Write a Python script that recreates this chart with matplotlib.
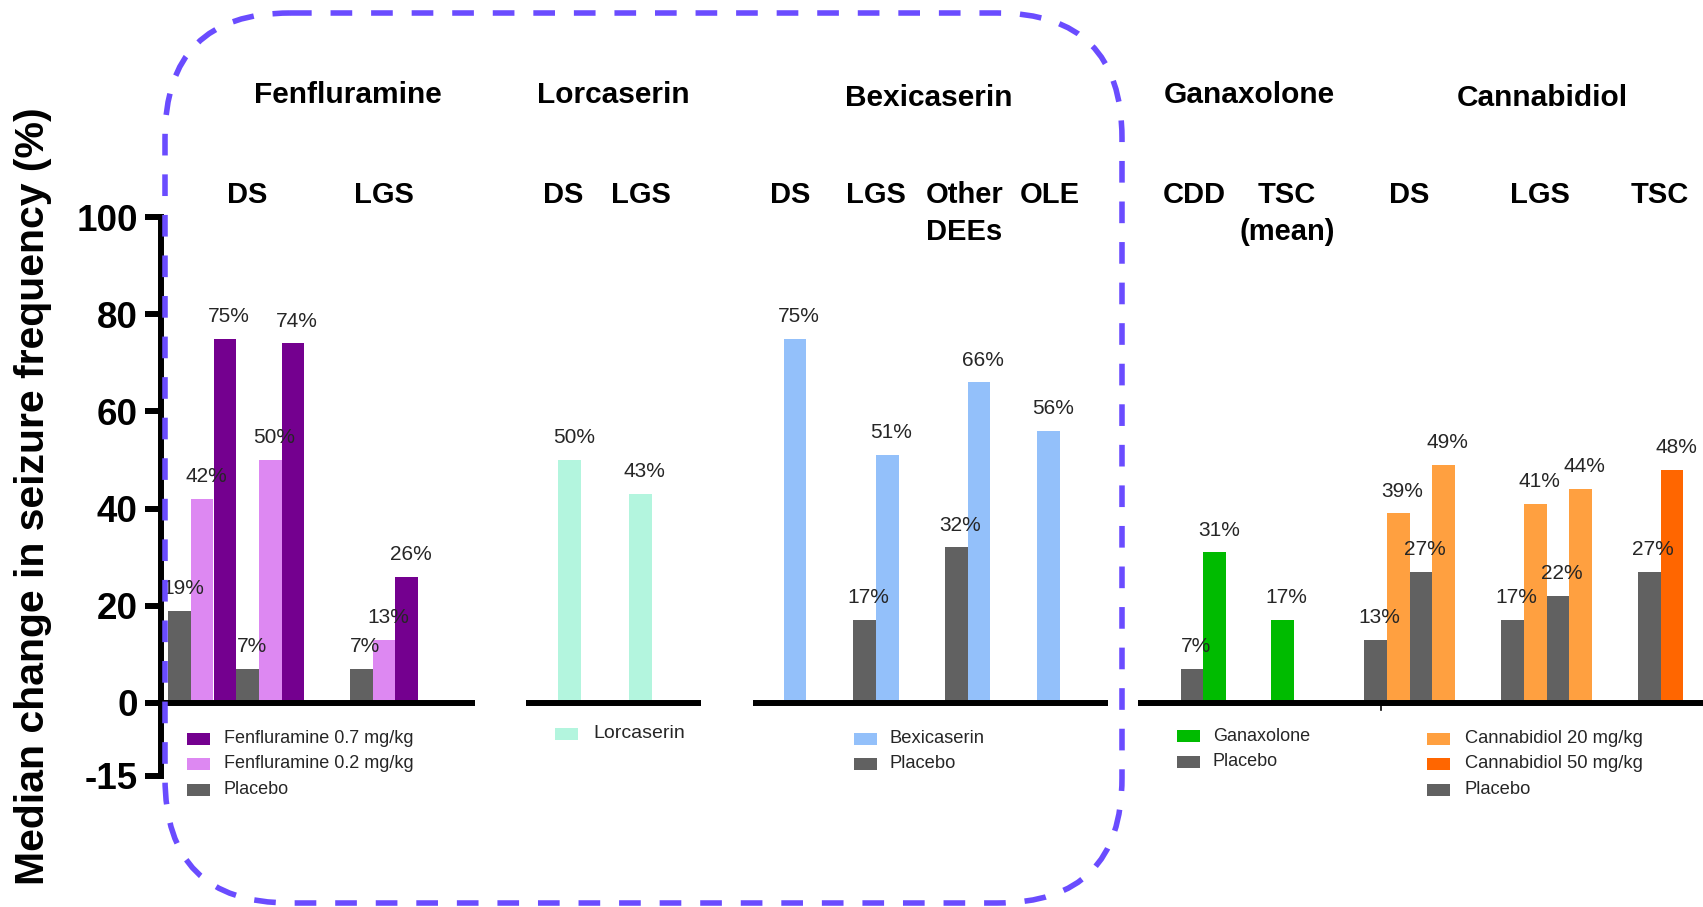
import matplotlib
matplotlib.use("Agg")
import matplotlib.pyplot as plt
from matplotlib.patches import FancyBboxPatch, Rectangle

plt.rcParams['font.family'] = ['Liberation Sans', 'DejaVu Sans']

# ---------------------------------------------------------------- data
# Median reduction in seizure frequency (%) per study arm, left to right
fen_ds_series = ["placebo", "fen02", "fen07", "placebo", "fen02", "fen07"]
fen_ds_values = [19, 42, 75, 7, 50, 74]
fen_lgs_series = ["placebo", "fen02", "fen07"]
fen_lgs_values = [7, 13, 26]

lorc_ds_series = ["lorc"]
lorc_ds_values = [50]
lorc_lgs_series = ["lorc"]
lorc_lgs_values = [43]

bexi_ds_series = ["bexi"]
bexi_ds_values = [75]
bexi_lgs_series = ["placebo", "bexi"]
bexi_lgs_values = [17, 51]
bexi_other_series = ["placebo", "bexi"]
bexi_other_values = [32, 66]
bexi_ole_series = ["bexi"]
bexi_ole_values = [56]

gan_cdd_series = ["placebo", "gan"]
gan_cdd_values = [7, 31]
gan_tsc_series = ["gan"]
gan_tsc_values = [17]

cbd_ds_series = ["placebo", "cbd20", "placebo", "cbd20"]
cbd_ds_values = [13, 39, 27, 49]
cbd_lgs_series = ["placebo", "cbd20", "placebo", "cbd20"]
cbd_lgs_values = [17, 41, 22, 44]
cbd_tsc_series = ["placebo", "cbd50"]
cbd_tsc_values = [27, 48]

drug_names = ["Fenfluramine", "Lorcaserin", "Bexicaserin", "Ganaxolone", "Cannabidiol"]
subgroup_labels = ["DS", "LGS", "DS", "LGS", "DS", "LGS", "Other\nDEEs", "OLE",
                   "CDD", "TSC\n(mean)", "DS", "LGS", "TSC"]
y_ticks = [-15, 0, 20, 40, 60, 80, 100]
y_label = "Median change in seizure frequency (%)"

series_names = {
    "placebo": "Placebo",
    "fen07": "Fenfluramine 0.7 mg/kg",
    "fen02": "Fenfluramine 0.2 mg/kg",
    "lorc": "Lorcaserin",
    "bexi": "Bexicaserin",
    "gan": "Ganaxolone",
    "cbd20": "Cannabidiol 20 mg/kg",
    "cbd50": "Cannabidiol 50 mg/kg",
}
legend_groups = [
    ["fen07", "fen02", "placebo"],
    ["lorc"],
    ["bexi", "placebo"],
    ["gan", "placebo"],
    ["cbd20", "cbd50", "placebo"],
]

# ---------------------------------------------------------------- style
colors = {
    "placebo": "#616161",
    "fen07": "#74008f",
    "fen02": "#dd88f2",
    "lorc": "#b3f5de",
    "bexi": "#93c0fa",
    "gan": "#00bb00",
    "cbd20": "#ffa040",
    "cbd50": "#ff6600",
}
box_color = "#6a4cff"
text_color = "#262626"

W, H = 1703, 907
fig = plt.figure(figsize=(W / 100, H / 100), dpi=100)
fig.patch.set_facecolor("white")

# plot area: x in figure pixels, y in percent
x_left = 160.7
y_top_px, y_bot_px = 217.2, 775.6
ax = fig.add_axes([x_left / W, 1 - y_bot_px / H, (W - x_left) / W, (y_bot_px - y_top_px) / H])
ax.set_xlim(x_left, W)
ax.set_ylim(-15, 100)
ax.set_facecolor("none")
for side in ["top", "right", "bottom"]:
    ax.spines[side].set_visible(False)
ax.spines["left"].set_linewidth(4.3)
ax.spines["left"].set_capstyle("projecting")
ax.set_xticks([])
ax.set_yticks(y_ticks)
ax.set_yticklabels([str(t) for t in y_ticks], fontsize=26.5, fontweight="bold")
ax.tick_params(axis="y", length=11.5, width=4.3, pad=5)

# overlay in pixel coordinates for headings, legends and the dashed frame
ov = fig.add_axes([0, 0, 1, 1], zorder=5)
ov.set_xlim(0, W)
ov.set_ylim(H, 0)
ov.axis("off")
ov.patch.set_alpha(0)

bar_w = 22.7
clusters = [
    (fen_ds_series, fen_ds_values, 236.2),
    (fen_lgs_series, fen_lgs_values, 383.9),
    (lorc_ds_series, lorc_ds_values, 569.6),
    (lorc_lgs_series, lorc_lgs_values, 640.2),
    (bexi_ds_series, bexi_ds_values, 795.0),
    (bexi_lgs_series, bexi_lgs_values, 875.9),
    (bexi_other_series, bexi_other_values, 967.6),
    (bexi_ole_series, bexi_ole_values, 1048.5),
    (gan_cdd_series, gan_cdd_values, 1203.3),
    (gan_tsc_series, gan_tsc_values, 1282.6),
    (cbd_ds_series, cbd_ds_values, 1409.6),
    (cbd_lgs_series, cbd_lgs_values, 1546.5),
    (cbd_tsc_series, cbd_tsc_values, 1660.5),
]

for series, values, center in clusters:
    n = len(values)
    xs = [center + (i - (n - 1) / 2) * bar_w for i in range(n)]
    bars = ax.bar(xs, values, width=bar_w, color=[colors[s] for s in series],
                  edgecolor="none", zorder=2)
    for b, v in zip(bars, values):
        ax.annotate(f"{v}%", (b.get_x() + b.get_width() / 2, v),
                    xytext=(3, 16), textcoords="offset points",
                    ha="center", va="center", fontsize=15, color=text_color, zorder=4)

# zero lines, one per drug panel
baseline_spans = [(x_left, 474.6), (525.6, 700.5), (752.6, 1107.7), (1138.0, W)]
for x0, x1 in baseline_spans:
    ax.plot([x0, x1], [0, 0], color="black", lw=4.3, solid_capstyle="butt", zorder=3)
ax.plot([1381, 1381], [0, -1.5], color="black", lw=1.2, zorder=3)

# drug headings and subgroup headings
drug_pos = [(347.5, 95), (613.6, 95), (928.5, 98.5), (1249, 95), (1542, 98.5)]
for name, (x, y) in zip(drug_names, drug_pos):
    ov.text(x, y, name, ha="center", va="center", fontsize=21.5, fontweight="bold")

sub_x = [247.6, 384.4, 563.6, 640.7, 790.6, 876.4, 964.4, 1050.2,
         1194.6, 1286.9, 1409.6, 1540.0, 1659.4]
for lab, x in zip(subgroup_labels, sub_x):
    ov.text(x, 181, lab, ha="center", va="top", fontsize=21, fontweight="bold",
            linespacing=1.4)

fig.text(32.6 / W, 1 - 496 / H, y_label, rotation=90, ha="center", va="center",
         fontsize=29.5, fontweight="bold")

# legends drawn as swatch + label rows
legend_anchor = [(186.8, 738.5, 223.7, 13), (555.0, 734.0, 593.0, 14),
                 (853.6, 738.5, 889.4, 13.2), (1177.0, 736.3, 1213.0, 13),
                 (1427.0, 738.5, 1465.0, 13.2)]
row_step = 25.5
for keys, (px, py, tx, fs) in zip(legend_groups, legend_anchor):
    for i, k in enumerate(keys):
        y = py + i * row_step
        ov.add_patch(Rectangle((px, y - 6), 23, 12, facecolor=colors[k], edgecolor="none"))
        ov.text(tx, y, series_names[k], ha="left", va="center", fontsize=fs,
                color=text_color)

# dashed rounded frame around the 5-HT agonists
frame = FancyBboxPatch((165, 13), 1122 - 165, 903 - 13,
                       boxstyle="round,pad=0,rounding_size=125",
                       fill=False, edgecolor=box_color, lw=4,
                       linestyle=(0, (3.9, 3.4)))
ov.add_patch(frame)

fig.savefig("out.png", dpi=100, facecolor="white")
